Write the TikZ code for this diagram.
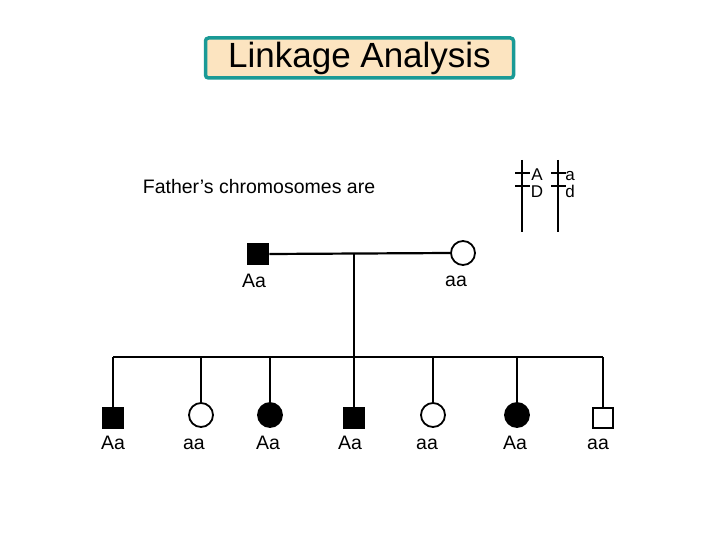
\documentclass[tikz,border=0pt]{standalone}
\usepackage{fontspec}
\setmainfont{Liberation Sans}
\begin{document}
\begin{tikzpicture}[x=1pt,y=-1pt,
  ln/.style={line width=2.2pt},
  sq/.style={draw,line width=1.8pt,minimum size=21pt,inner sep=0pt},
  ci/.style={circle,draw,line width=1.8pt,minimum size=24pt,inner sep=0pt},
  lab/.style={font=\fontsize{19.5}{22}\selectfont,anchor=base,inner sep=0pt},
  clab/.style={font=\fontsize{17}{18}\selectfont,anchor=base,inner sep=0pt}]
\useasboundingbox (0,0) rectangle (720,540);
\node[draw={rgb,255:red,26;green,154;blue,150},fill={rgb,255:red,252;green,228;blue,192},line width=3.5pt,rounded corners=3pt,minimum width=308pt,minimum height=40pt,font=\fontsize{35}{40}\selectfont] (title) at (359.5,58) {Linkage Analysis};
\node[lab] (ftxt) at (259,194) {Father’s chromosomes are};
\coordinate (c1t) at (522,160); \coordinate (c1b) at (522,232);
\coordinate (c2t) at (558,160); \coordinate (c2b) at (558,232);
\draw[line width=2.5pt] (c1t)--(c1b) (c2t)--(c2b);
\draw[line width=1.5pt] (515,173)--(530,173) (515,186)--(530,186) (551,173)--(566,173) (551,186)--(566,186);
\node[clab] (lA) at (537,181) {A};
\node[clab] (lD) at (537,197) {D};
\node[clab] (la) at (570,181) {a};
\node[clab] (ld) at (570,197) {d};
\node[sq,fill=black] (fa) at (258,254) {};
\node[ci] (mo) at (463,253) {};
\node[lab] (lfa) at (254,287) {Aa};
\node[lab] (lmo) at (456,286) {aa};
\coordinate (mid) at (354,254);
\coordinate (sib) at (354,357);
\draw[ln] (fa.east)--(mo.west);
\draw[ln] (mid)--(sib);
\coordinate (sl) at (113,357); \coordinate (sr) at (603,357);
\draw[ln] (sl)--(sr);
\foreach \x/\n in {113/1,201/2,270/3,354/4,433/5,517/6,603/7}{
  \coordinate (t\n) at (\x,357);
}
\node[sq,fill=black] (k1) at (113,418) {};
\node[ci] (k2) at (201,415) {};
\node[ci,fill=black] (k3) at (270,415) {};
\node[sq,fill=black] (k4) at (354,418) {};
\node[ci] (k5) at (433,415) {};
\node[ci,fill=black] (k6) at (517,415) {};
\node[sq,minimum size=20pt] (k7) at (603,418) {};
\foreach \n in {1,...,7}{\draw[ln] (t\n)--(k\n);}
\node[lab] (g1) at (113,449) {Aa};
\node[lab] (g2) at (194,449) {aa};
\node[lab] (g3) at (268,449) {Aa};
\node[lab] (g4) at (350,449) {Aa};
\node[lab] (g5) at (427,449) {aa};
\node[lab] (g6) at (515,449) {Aa};
\node[lab] (g7) at (598,449) {aa};
\end{tikzpicture}
\end{document}
